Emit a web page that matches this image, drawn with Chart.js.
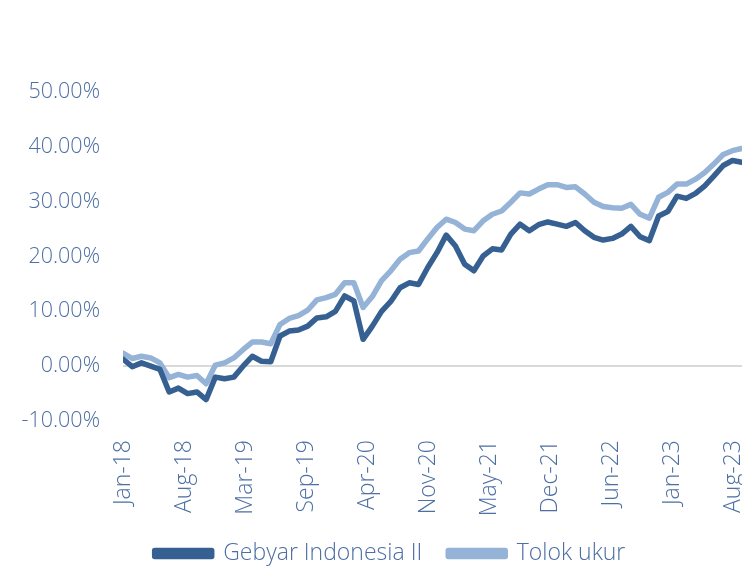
<!DOCTYPE html>
<html lang="id">
<head>
  <meta charset="UTF-8">
  <title>Gebyar Indonesia II vs Tolok ukur</title>
  <script src="https://cdn.jsdelivr.net/npm/chart.js"></script>
  <style>
    body {
      margin: 0;
      background: #fff;
      overflow: hidden;
    }

    .wrap {
      width: 780px;
      height: 600px;
    }
  </style>
</head>
<body>

  <div class="wrap">
    <canvas id="perfChart"></canvas>
  </div>

  <script>
    // monthly data, Jan-18 .. Aug-23 (last point falls just past the right edge)
    const months = [
      'Jan-18','Feb-18','Mar-18','Apr-18','May-18','Jun-18','Jul-18','Aug-18','Sep-18','Oct-18','Nov-18','Dec-18',
      'Jan-19','Feb-19','Mar-19','Apr-19','May-19','Jun-19','Jul-19','Aug-19','Sep-19','Oct-19','Nov-19','Dec-19',
      'Jan-20','Feb-20','Mar-20','Apr-20','May-20','Jun-20','Jul-20','Aug-20','Sep-20','Oct-20','Nov-20','Dec-20',
      'Jan-21','Feb-21','Mar-21','Apr-21','May-21','Jun-21','Jul-21','Aug-21','Sep-21','Oct-21','Nov-21','Dec-21',
      'Jan-22','Feb-22','Mar-22','Apr-22','May-22','Jun-22','Jul-22','Aug-22','Sep-22','Oct-22','Nov-22','Dec-22',
      'Jan-23','Feb-23','Mar-23','Apr-23','May-23','Jun-23','Jul-23','Aug-23'
    ];

    const gebyar = [
      1.3, -0.1, 0.6, 0.0, -0.6, -4.7, -4.0, -5.0, -4.7, -6.1, -2.0, -2.3,
      -2.0, 0.0, 1.8, 0.9, 0.8, 5.5, 6.4, 6.6, 7.3, 8.8, 9.0, 10.0,
      12.8, 11.9, 4.9, 7.3, 10.0, 11.8, 14.3, 15.2, 14.9, 18.0, 20.7, 23.9,
      21.9, 18.6, 17.4, 20.1, 21.4, 21.2, 24.1, 25.9, 24.7, 25.8, 26.3, 25.9,
      25.5, 26.2, 24.7, 23.5, 23.0, 23.3, 24.1, 25.5, 23.6, 22.9, 27.4, 28.2,
      31.0, 30.6, 31.5, 32.9, 34.7, 36.6, 37.5, 37.2
    ];

    const tolokUkur = [
      2.4, 1.4, 1.8, 1.5, 0.6, -2.1, -1.5, -2.0, -1.7, -3.2, 0.2, 0.6,
      1.5, 3.0, 4.4, 4.4, 4.1, 7.6, 8.7, 9.2, 10.2, 12.1, 12.5, 13.1,
      15.2, 15.2, 10.7, 12.7, 15.6, 17.4, 19.5, 20.7, 21.0, 23.2, 25.3, 26.8,
      26.2, 25.0, 24.7, 26.5, 27.7, 28.3, 29.9, 31.6, 31.4, 32.3, 33.1, 33.1,
      32.6, 32.7, 31.4, 29.9, 29.1, 28.9, 28.8, 29.5, 27.7, 27.0, 30.8, 31.7,
      33.2, 33.2, 34.1, 35.3, 36.9, 38.6, 39.3, 39.7
    ];

    // axis labels as printed on the date axis (one every ~201 days)
    const tickLabels = ['Jan-18','Aug-18','Mar-19','Sep-19','Apr-20','Nov-20','May-21','Dec-21','Jun-22','Jan-23','Aug-23'];
    const tickStep = 6.61; // in months
    const xMax = 70.7;     // axis runs a little past the last month (cropped in the original)

    const textColor = '#4d6fa3';
    const font = '"Open Sans", Lato, sans-serif';

    const ctx = document.getElementById('perfChart').getContext('2d');
    new Chart(ctx, {
      type: 'line',
      data: {
        datasets: [
          {
            label: 'Gebyar Indonesia II',
            data: gebyar.map((v, i) => ({ x: i, y: v })),
            borderColor: '#376092',
            backgroundColor: '#376092',
            borderWidth: 5.5,
            pointRadius: 0,
            tension: 0,
            borderJoinStyle: 'round',
            borderCapStyle: 'round'
          },
          {
            label: 'Tolok ukur',
            data: tolokUkur.map((v, i) => ({ x: i, y: v })),
            borderColor: '#95b3d7',
            backgroundColor: '#95b3d7',
            borderWidth: 5.5,
            pointRadius: 0,
            tension: 0,
            borderJoinStyle: 'round',
            borderCapStyle: 'round'
          }
        ]
      },
      options: {
        responsive: true,
        maintainAspectRatio: false,
        animation: false,
        layout: {
          padding: { top: 92, right: 0, left: 0, bottom: 25 }
        },
        scales: {
          x: {
            type: 'linear',
            min: 0,
            max: xMax,
            grid: { display: false, drawTicks: false },
            border: { display: false },
            afterBuildTicks: axis => {
              axis.ticks = tickLabels.map((_, k) => ({ value: k * tickStep }));
            },
            afterFit: axis => { axis.height = 95; },
            ticks: {
              autoSkip: false,
              minRotation: 90,
              maxRotation: 90,
              padding: 19,
              color: textColor,
              font: { family: font, size: 23, weight: 300 },
              callback: (v, i) => tickLabels[i]
            }
          },
          y: {
            min: -10,
            max: 50,
            grid: {
              drawTicks: false,
              lineWidth: 2,
              color: c => c.tick && c.tick.value === 0 ? '#d9d9d9' : 'rgba(0,0,0,0)'
            },
            border: { display: false },
            afterFit: axis => { axis.width = 123; },
            ticks: {
              stepSize: 10,
              padding: 23,
              color: textColor,
              font: { family: font, size: 21.5, weight: 300 },
              callback: v => v.toFixed(2) + '%'
            }
          }
        },
        plugins: {
          legend: {
            position: 'bottom',
            labels: {
              boxWidth: 57,
              boxHeight: 6,
              padding: 26,
              color: textColor,
              font: { family: font, size: 23, weight: 300 }
            }
          },
          tooltip: {
            callbacks: {
              title: items => months[items[0].parsed.x],
              label: item => item.dataset.label + ': ' + item.parsed.y.toFixed(2) + '%'
            }
          }
        }
      }
    });
  </script>

</body>
</html>
